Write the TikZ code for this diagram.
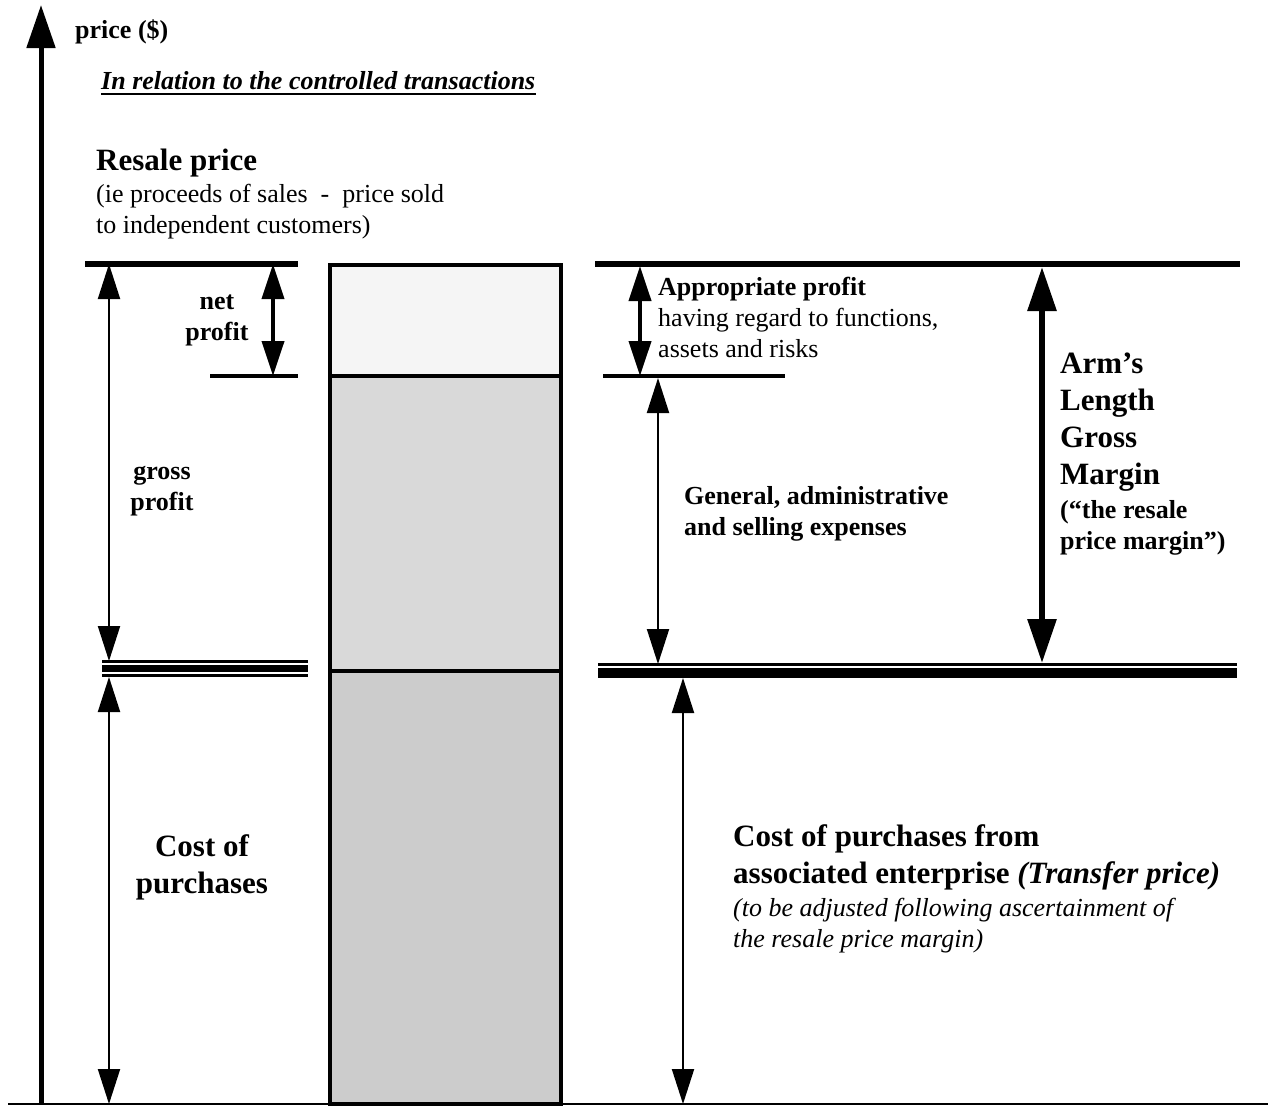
\documentclass[tikz,border=0pt]{standalone}
\usepackage{fontspec}
\setmainfont{Liberation Serif}
\usepackage{xcolor}
\usepackage{tikz}
\usetikzlibrary{arrows.meta}
\colorlet{profitfill}{black!4}
\colorlet{grossfill}{black!15}
\colorlet{costfill}{black!20}
\newcommand{\smallfont}{\fontsize{26}{31}\selectfont}
\newcommand{\largefont}{\fontsize{31}{37}\selectfont}
\tikzset{
  % node options
  label/.style={inner sep=0,font=\smallfont\bfseries},
  plain/.style={label,font=\smallfont},
  big/.style={inner sep=0,font=\largefont\bfseries},
  % path options
  axis/.style={line width=5pt,-{Triangle[length=43pt,width=28pt]}},
  level/.style={line width=5.5pt},
  sublevel/.style={line width=3.5pt},
  dimarrow/.style={line width=2pt,{Triangle[length=35pt,width=22pt]}-{Triangle[length=35pt,width=22pt]}},
  dimarrow thick/.style={dimarrow,line width=4pt},
  dimarrow heavy/.style={line width=6pt,{Triangle[length=44pt,width=28pt]}-{Triangle[length=44pt,width=28pt]}},
  bar/.style={draw,line width=3.5pt},
}
% multi-line nodes sit on the baseline of their last line
\newcommand{\resaleprice}{\node[big,anchor=base west] (resale price) at (96,170) {Resale price};}
\newcommand{\resalenote}{\node[plain,anchor=base west,align=left] (resale note) at (96,233) {(ie proceeds of sales~ -~ price sold\\to independent customers)};}
\newcommand{\netprofit}{\node[label,anchor=base,align=center] (net profit) at (217,340) {net\\profit};}
\newcommand{\grossprofit}{\node[label,anchor=base,align=center] (gross profit) at (162,510) {gross\\profit};}
\newcommand{\costleft}{\node[big,anchor=base,align=center] (cost left) at (202,893) {Cost of\\purchases};}

\begin{document}
\begin{tikzpicture}[x=1pt,y=-1pt]
    \useasboundingbox (0,0) rectangle (1268,1106);
    % levels
    \coordinate (L top) at (85,264);
    \coordinate (L top end) at (298,264);
    \coordinate (L net) at (210,376);
    \coordinate (L net end) at (298,376);
    \coordinate (R top) at (595,264);
    \coordinate (R top end) at (1240,264);
    \coordinate (R net) at (603,376);
    \coordinate (R net end) at (785,376);
    \coordinate (origin) at (41,1104);
    \coordinate (axis end) at (41,5);
    \coordinate (floor start) at (8,1104);
    \coordinate (floor end) at (1268,1104);
    % axis and floor
    \draw[line width=2pt] (floor start) -- (floor end);
    \draw[axis] (origin) -- (axis end);
    \node[label,anchor=base west] (price) at (75,38) {price (\$)};
    \node[inner sep=0,font=\smallfont\bfseries\itshape,anchor=base west] (controlled) at (101,89) {In relation to the controlled transactions};
    \draw[line width=2.5pt] ([yshift=-5pt]controlled.base west) -- ([yshift=-5pt]controlled.base east);
    \resaleprice
    \resalenote
    % the bar
    \draw[bar,fill=costfill] (330,671) rectangle (561,1104);
    \draw[bar,fill=grossfill] (330,376) rectangle (561,671);
    \draw[bar,fill=profitfill] (330,265) rectangle (561,376);
    \draw[line width=4.5pt] (330,376) -- (561,376);
    % left side
    \draw[level] (L top) -- (L top end);
    \draw[sublevel] (L net) -- (L net end);
    \draw[line width=3pt] (102,661.5) -- (308,661.5);
    \draw[line width=7pt] (102,668.5) -- (308,668.5);
    \draw[line width=3pt] (102,675) -- (308,675);
    \coordinate (L gross) at (109,661);
    \coordinate (L cost) at (109,677);
    \draw[dimarrow] (109,264) -- (L gross);
    \draw[dimarrow thick] (273,264) -- (273,376);
    \draw[dimarrow] (L cost) -- (109,1104);
    \netprofit
    \grossprofit
    \costleft
    % right side
    \draw[level] (R top) -- (R top end);
    \draw[sublevel] (R net) -- (R net end);
    \draw[line width=3pt] (598,664.5) -- (1237,664.5);
    \draw[line width=10pt] (598,673) -- (1237,673);
    \draw[dimarrow thick] (640,266) -- (640,376);
    \draw[dimarrow] (658,378) -- (658,664);
    \draw[dimarrow heavy] (1042,267) -- (1042,663);
    \draw[dimarrow] (683,678) -- (683,1104);
    \node[plain,anchor=base west,align=left] (appropriate profit) at (658,357) {\textbf{Appropriate profit}\\having regard to functions,\\assets and risks};
    \node[label,anchor=base west,align=left] (expenses) at (684,535) {General, administrative\\and selling expenses};
    \node[big,anchor=base west,align=left] (arms length) at (1060,484) {Arm’s\\Length\\Gross\\Margin};
    \node[label,anchor=base west,align=left] (margin) at (1060,549) {(“the resale\\price margin”)};
    \node[big,anchor=base west,align=left] (cost right) at (733,883) {Cost of purchases from\\associated enterprise \textit{(Transfer price)}};
    \node[plain,anchor=base west,align=left,font=\smallfont\itshape] (adjusted) at (733,947) {(to be adjusted following ascertainment of\\the resale price margin)};
  \end{tikzpicture}
\end{document}
